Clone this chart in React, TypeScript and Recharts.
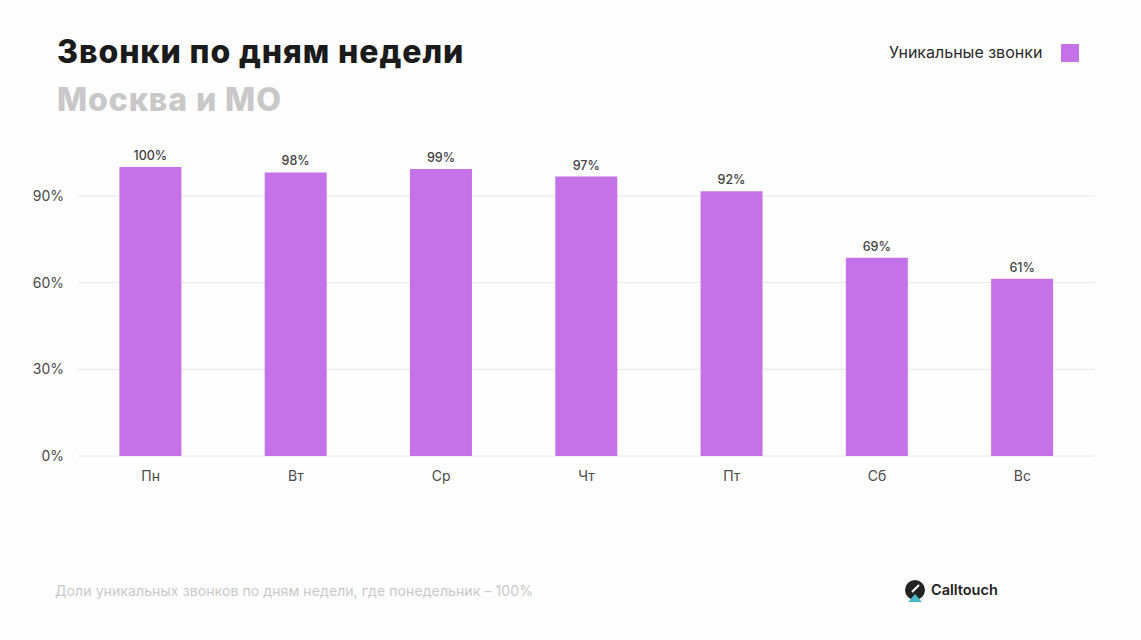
import React from "react";
import { Bar, BarChart, CartesianGrid, LabelList, XAxis, YAxis } from "recharts";

const days = ["Пн", "Вт", "Ср", "Чт", "Пт", "Сб", "Вс"];
const uniqueCalls = [100, 98.1, 99.3, 96.7, 91.6, 68.6, 61.3];
const yTicks = [0, 30, 60, 90];

const data = days.map((day, i) => ({ day, value: uniqueCalls[i] }));

const font = "Inter, 'Noto Sans', sans-serif";

export default function App() {
  return (
    <div
      style={{
        position: "absolute",
        left: 0,
        top: 0,
        width: 1141,
        height: 640,
        background: "#fdfdfd",
        fontFamily: font,
        overflow: "hidden",
      }}
    >
      <BarChart
        width={1141}
        height={640}
        data={data}
        margin={{ top: 167, right: 46, bottom: 154, left: 0 }}
        barCategoryGap="28.5%"
        style={{ position: "absolute", left: 0, top: 0 }}
      >
        <CartesianGrid vertical={false} stroke="#e6e6e6" syncWithTicks />
        <XAxis
          dataKey="day"
          axisLine={false}
          tickLine={false}
          tickMargin={9}
          height={30}
          tick={{ fontSize: 14, fill: "#4a4a4a", fontFamily: font }}
        />
        <YAxis
          width={78}
          domain={[0, 100]}
          ticks={yTicks}
          axisLine={false}
          tickLine={false}
          tickMargin={8}
          tickFormatter={(v) => `${v}%`}
          tick={{ fontSize: 14, fill: "#4a4a4a", fontFamily: font }}
        />
        <Bar dataKey="value" fill="#c572e8" isAnimationActive={false}>
          <LabelList
            dataKey="value"
            position="top"
            offset={7}
            formatter={(v: number) => `${Math.round(v)}%`}
            style={{ fontSize: 12.5, fill: "#444", fontFamily: font, fontWeight: 500 }}
          />
        </Bar>
      </BarChart>

      <div style={{ position: "absolute", left: 57, top: 32, fontSize: 32, fontWeight: 800, color: "#1b1b1b", letterSpacing: 0.9 }}>
        Звонки по дням недели
      </div>
      <div style={{ position: "absolute", left: 57, top: 80, fontSize: 32, fontWeight: 800, color: "#c8c8c8", letterSpacing: 0.9 }}>
        Москва и МО
      </div>

      <div style={{ position: "absolute", left: 889, top: 42, fontSize: 16, color: "#2a2a2a" }}>
        Уникальные звонки
      </div>
      <div style={{ position: "absolute", left: 1061, top: 44, width: 18, height: 18, background: "#c572e8" }} />

      <div style={{ position: "absolute", left: 55, top: 582, fontSize: 14, color: "#c9c9c9", letterSpacing: 0.1 }}>
        Доли уникальных звонков по дням недели, где понедельник – 100%
      </div>

      <svg style={{ position: "absolute", left: 905, top: 580 }} width={22} height={24} viewBox="0 0 22 24">
        <circle cx={10} cy={10} r={10} fill="#222" />
        <path d="M3 22 L10 14 L17 22 Z" fill="#4bb8c8" />
        <path d="M7 12 L14 5" stroke="#fff" strokeWidth={2} />
      </svg>
      <div style={{ position: "absolute", left: 931, top: 581, fontSize: 14.5, fontWeight: 600, color: "#222" }}>
        Calltouch
      </div>
    </div>
  );
}
